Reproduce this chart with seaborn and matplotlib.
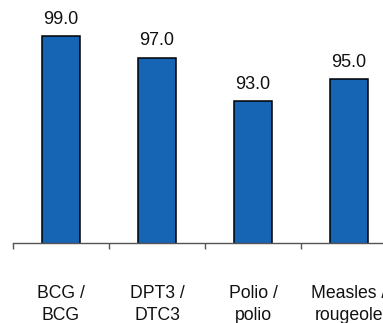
import numpy as np
import pandas as pd
import matplotlib
matplotlib.use('Agg')
import matplotlib.pyplot as plt
import seaborn as sns

# Immunization coverage (%)
vaccines = ['BCG /\nBCG', 'DPT3 /\nDTC3', 'Polio /\npolio', 'Measles /\nrougeole']
coverage = [99.0, 97.0, 93.0, 95.0]

sns.set_theme(style="white")
plt.rcParams['font.family'] = ['Liberation Sans', 'DejaVu Sans']

df = pd.DataFrame({'vaccine': vaccines, 'coverage': coverage})

fig = plt.figure(figsize=(3.83, 3.23), dpi=100)
ax = fig.add_axes([13 / 383, (323 - 242.7) / 323, 384 / 383, (242.7 - 25) / 323])

sns.barplot(data=df, x='vaccine', y='coverage', color='#1565B4', saturation=1,
            width=0.4, edgecolor='black', linewidth=1.1, ax=ax)
ax.set_ylim(80, 100)
ax.set_xlim(-0.5, 3.5)

for c in ax.containers:
    ax.bar_label(c, fmt='%.1f', padding=6, fontsize=13, color='#111111')

for s in ['top', 'right', 'left']:
    ax.spines[s].set_visible(False)
ax.spines['bottom'].set_color('#555555')
ax.spines['bottom'].set_linewidth(1)

ax.set_yticks([])
ax.set_xlabel('')
ax.set_ylabel('')
ax.set_xticks(range(len(vaccines)))
ax.set_xticklabels(vaccines, fontsize=12.7, linespacing=1.4, color='#111111')
ax.tick_params(axis='x', which='major', length=0, pad=30.5)
ax.set_xticks(np.arange(-0.5, len(vaccines)), minor=True)
ax.tick_params(axis='x', which='minor', bottom=True, length=4, width=1, color='#555555')

fig.savefig('out.png', dpi=100)
